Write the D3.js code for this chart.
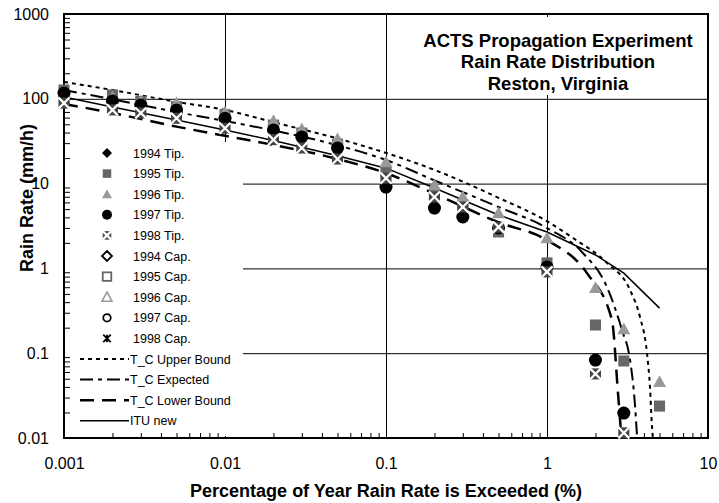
<!DOCTYPE html>
<html>
<head>
<meta charset="utf-8">
<script src="https://cdn.jsdelivr.net/npm/d3@7"></script>
<style>
body { margin: 0; background: #fff; }
svg { font-family: "Liberation Sans", Arial, Helvetica, sans-serif; }
</style>
</head>
<body>
<svg id="chart" width="719" height="503"></svg>
<script>
// percentages where the measured points sit
var pct = [0.001, 0.002, 0.003, 0.005, 0.01, 0.02, 0.03, 0.05, 0.1, 0.2, 0.3, 0.5, 1, 2, 3, 5];

// tipping bucket data (mm/h), null = no point
var tip1994 = [117, 94, 84, 74, 59, 43, 35.5, 26.3, 9.1, 5.15, 4.04, 3.0, 1.04, 0.083, 0.0197, null];
var tip1995 = [127, 111, 93, 81, 65, 49, 39.5, 29, 13.7, 7.3, 5.6, 2.69, 1.16, 0.215, 0.081, 0.0238];
var tip1996 = [120, 105, 94, 89, 70, 55, 44, 33.6, 18, 9.6, 7.0, 4.5, 2.28, 0.59, 0.193, 0.046];
var tip1997 = [117, 94, 84.5, 74, 59, 43, 35.5, 26.3, 9.1, 5.15, 4.04, 3.0, 1.04, 0.083, 0.0197, null];
var tip1998 = [89, 74, 68, 59, 45, 33, 26.3, 19.5, 11.6, 6.95, 5.3, 3.07, 0.91, 0.057, 0.0115, null];

// capacitive gauge data: none of it shows on the plot
var cap1994 = [];
var cap1995 = [];
var cap1996 = [];
var cap1997 = [];
var cap1998 = [];

// model curves
var upperPct = [0.001, 0.002, 0.005, 0.01, 0.02, 0.05, 0.1, 0.2, 0.5, 1, 1.45, 2.36, 3.28, 3.78, 4.18, 4.36, 4.49, 4.55];
var upperRate = [158, 127, 92, 74, 53, 34, 23, 14.5, 6.8, 3.6, 2.28, 1.16, 0.556, 0.267, 0.1, 0.04, 0.0135, 0.01];

var expPct = [0.001, 0.002, 0.005, 0.01, 0.02, 0.05, 0.1, 0.2, 0.5, 1, 1.67, 2.36, 2.92, 3.28, 3.5, 3.63];
var expRate = [127, 98.6, 69.8, 54.7, 42.4, 28.3, 19, 10.9, 5.3, 2.99, 1.52, 0.6, 0.188, 0.083, 0.028, 0.01];

var lowPct = [0.001, 0.002, 0.005, 0.01, 0.02, 0.05, 0.1, 0.2, 0.5, 1, 1.77, 2.53, 2.76, 2.9];
var lowRate = [87, 68, 47, 36.6, 28.6, 19.5, 13.3, 7.6, 3.5, 2.15, 0.88, 0.247, 0.034, 0.01];

var ituPct = [0.001, 0.002, 0.005, 0.01, 0.02, 0.05, 0.1, 0.2, 0.3, 0.5, 1, 2, 3, 5];
var ituRate = [105, 80, 56.2, 42.9, 32.3, 21.3, 15.2, 8.87, 6.4, 4.26, 2.69, 1.44, 0.88, 0.34];

var xMajor = [0.001, 0.01, 0.1, 1, 10];
var yMajor = [0.01, 0.1, 1, 10, 100, 1000];

var legendNames = ['1994 Tip.', '1995 Tip.', '1996 Tip.', '1997 Tip.', '1998 Tip.',
    '1994 Cap.', '1995 Cap.', '1996 Cap.', '1997 Cap.', '1998 Cap.',
    'T_C Upper Bound', 'T_C Expected', 'T_C Lower Bound', 'ITU new'];

var titleLines = ['ACTS Propagation Experiment', 'Rain Rate Distribution', 'Reston, Virginia'];

var svg = d3.select('#chart');
var plotL = 64, plotR = 708, plotT = 14, plotB = 438;

var x = d3.scaleLog().domain([0.001, 10]).range([plotL, plotR]);
var y = d3.scaleLog().domain([0.01, 1000]).range([plotB, plotT]);

function minors(lo, hi) {
    var out = [];
    for (var d = lo; d < hi * 0.999; d *= 10) {
        for (var k = 2; k <= 9; k++) out.push(d * k);
    }
    return out;
}

// grid
svg.append('g')
    .attr('transform', 'translate(0,' + plotB + ')')
    .call(d3.axisBottom(x).tickValues([0.01, 0.1, 1]).tickSize(-(plotB - plotT)).tickFormat(''))
    .call(function(g) { g.select('.domain').remove(); })
    .selectAll('line').attr('stroke', '#000').attr('stroke-width', 1);

svg.append('g')
    .attr('transform', 'translate(' + plotL + ',0)')
    .call(d3.axisLeft(y).tickValues([0.1, 1, 10, 100]).tickSize(-(plotR - plotL)).tickFormat(''))
    .call(function(g) { g.select('.domain').remove(); })
    .selectAll('line').attr('stroke', '#000').attr('stroke-width', 1);

// white boxes for legend and title
svg.append('rect').attr('x', plotL + 1).attr('y', 142).attr('width', 178).attr('height', plotB - 142 - 2).attr('fill', '#fff');
svg.append('rect').attr('x', 396).attr('y', 17).attr('width', 310).attr('height', 78).attr('fill', '#fff');

// minor ticks, inside
svg.append('g')
    .attr('transform', 'translate(0,' + plotB + ')')
    .call(d3.axisBottom(x).tickValues(minors(0.001, 10)).tickSize(-5).tickFormat(''))
    .call(function(g) { g.select('.domain').remove(); })
    .selectAll('line').attr('stroke', '#000');

svg.append('g')
    .attr('transform', 'translate(' + plotL + ',0)')
    .call(d3.axisLeft(y).tickValues(minors(0.01, 1000)).tickSize(-6).tickFormat(''))
    .call(function(g) { g.select('.domain').remove(); })
    .selectAll('line').attr('stroke', '#000');

// tick labels
var fmt = function(d) { return String(+d.toPrecision(3)); };
svg.append('g')
    .attr('transform', 'translate(0,' + plotB + ')')
    .call(d3.axisBottom(x).tickValues(xMajor).tickSize(0).tickPadding(20).tickFormat(fmt))
    .call(function(g) { g.select('.domain').remove(); })
    .selectAll('text').attr('font-size', 16).attr('fill', '#000').attr('font-family', null);

svg.append('g')
    .attr('transform', 'translate(' + plotL + ',0)')
    .call(d3.axisLeft(y).tickValues(yMajor).tickSize(0).tickPadding(15).tickFormat(fmt))
    .call(function(g) { g.select('.domain').remove(); })
    .selectAll('text').attr('font-size', 16).attr('fill', '#000').attr('font-family', null);

// frame
svg.append('rect')
    .attr('x', plotL).attr('y', plotT)
    .attr('width', plotR - plotL).attr('height', plotB - plotT)
    .attr('fill', 'none').attr('stroke', '#000').attr('stroke-width', 2);

// axis titles
svg.append('text')
    .attr('x', (plotL + plotR) / 2).attr('y', 497)
    .attr('text-anchor', 'middle').attr('font-size', 18).attr('font-weight', 'bold')
    .text('Percentage of Year Rain Rate is Exceeded (%)');

svg.append('text')
    .attr('transform', 'translate(33,272) rotate(-90)')
    .attr('text-anchor', 'start').attr('font-size', 18).attr('font-weight', 'bold')
    .text('Rain Rate (mm/h)');

// title
svg.append('g').selectAll('text')
    .data(titleLines)
    .join('text')
    .attr('x', 558).attr('y', function(d, i) { return 46.5 + i * 21.5; })
    .attr('text-anchor', 'middle').attr('font-size', 18.5).attr('font-weight', 'bold')
    .text(function(d) { return d; });

// curves
var styles = [
    { p: upperPct, r: upperRate, dash: '4,4', w: 2 },
    { p: expPct, r: expRate, dash: '13,5,4,5', w: 2 },
    { p: lowPct, r: lowRate, dash: '14,8', w: 2.5 },
    { p: ituPct, r: ituRate, dash: null, w: 1.5 }
];

var line = d3.line()
    .x(function(d) { return x(d[0]); })
    .y(function(d) { return y(d[1]); });

styles.forEach(function(s, i) {
    line.curve(i == 3 ? d3.curveLinear : d3.curveMonotoneX);
    svg.append('path')
        .attr('d', line(d3.zip(s.p, s.r)))
        .attr('fill', 'none').attr('stroke', '#000')
        .attr('stroke-width', s.w)
        .attr('stroke-dasharray', s.dash);
});

// markers
function marker(g, kind, cx, cy, s) {
    var h = s / 2;
    if (kind == 'diamond' || kind == 'odiamond') {
        g.append('path')
            .attr('d', 'M' + cx + ',' + (cy - h) + 'L' + (cx + h) + ',' + cy + 'L' + cx + ',' + (cy + h) + 'L' + (cx - h) + ',' + cy + 'Z')
            .attr('fill', kind == 'diamond' ? '#000' : '#fff')
            .attr('stroke', '#000').attr('stroke-width', kind == 'diamond' ? 0 : 1.8);
    } else if (kind == 'square' || kind == 'osquare') {
        var q = h * 0.85;
        g.append('rect').attr('x', cx - q).attr('y', cy - q).attr('width', 2 * q).attr('height', 2 * q)
            .attr('fill', kind == 'square' ? '#666' : '#fff')
            .attr('stroke', '#666').attr('stroke-width', kind == 'square' ? 0 : 1.8);
    } else if (kind == 'triangle' || kind == 'otriangle') {
        g.append('path')
            .attr('d', 'M' + cx + ',' + (cy - h) + 'L' + (cx + h) + ',' + (cy + h * 0.8) + 'L' + (cx - h) + ',' + (cy + h * 0.8) + 'Z')
            .attr('fill', kind == 'triangle' ? '#999' : '#fff')
            .attr('stroke', '#999').attr('stroke-width', kind == 'triangle' ? 0 : 1.6);
    } else if (kind == 'circle' || kind == 'ocircle') {
        g.append('circle').attr('cx', cx).attr('cy', cy).attr('r', kind == 'circle' ? h : h * 0.75)
            .attr('fill', kind == 'circle' ? '#000' : '#fff')
            .attr('stroke', '#000').attr('stroke-width', kind == 'circle' ? 0 : 1.8);
    } else if (kind == 'boxx') {
        var b = h * 0.85;
        g.append('rect').attr('x', cx - b).attr('y', cy - b).attr('width', 2 * b).attr('height', 2 * b)
            .attr('fill', '#444');
        g.append('path')
            .attr('d', 'M' + (cx - b) + ',' + (cy - b) + 'L' + (cx + b) + ',' + (cy + b) + 'M' + (cx + b) + ',' + (cy - b) + 'L' + (cx - b) + ',' + (cy + b))
            .attr('stroke', '#fff').attr('stroke-width', 2.2);
    } else if (kind == 'star') {
        var a = h * 0.75;
        g.append('path')
            .attr('d', 'M' + (cx - a) + ',' + (cy - a) + 'L' + (cx + a) + ',' + (cy + a) + 'M' + (cx + a) + ',' + (cy - a) + 'L' + (cx - a) + ',' + (cy + a) +
                'M' + cx + ',' + (cy - a) + 'L' + cx + ',' + (cy + a))
            .attr('stroke', '#000').attr('stroke-width', 1.8);
    }
}

var series = [
    { v: tip1994, kind: 'diamond' },
    { v: tip1995, kind: 'square' },
    { v: tip1996, kind: 'triangle' },
    { v: tip1997, kind: 'circle' },
    { v: tip1998, kind: 'boxx' },
    { v: cap1994, kind: 'odiamond' },
    { v: cap1995, kind: 'osquare' },
    { v: cap1996, kind: 'otriangle' },
    { v: cap1997, kind: 'ocircle' },
    { v: cap1998, kind: 'star' }
];

var mg = svg.append('g');
series.forEach(function(s) {
    s.v.forEach(function(val, i) {
        if (val == null) return;
        marker(mg, s.kind, x(pct[i]), y(val), 13);
    });
});

// legend
var lg = svg.append('g');
var legendY0 = 153, legendStep = 20.6;
legendNames.forEach(function(name, i) {
    var ly = legendY0 + i * legendStep;
    if (i < 10) {
        marker(lg, series[i].kind, 107, ly, 10);
        lg.append('text').attr('x', 133).attr('y', ly + 4.5).attr('font-size', 12.5).text(name);
    } else {
        var st = styles[i - 10];
        lg.append('line').attr('x1', 80).attr('x2', 129).attr('y1', ly).attr('y2', ly)
            .attr('stroke', '#000').attr('stroke-width', st.w).attr('stroke-dasharray', st.dash);
        lg.append('text').attr('x', 130).attr('y', ly + 4.5).attr('font-size', 12.5).text(name);
    }
});
</script>
</body>
</html>
